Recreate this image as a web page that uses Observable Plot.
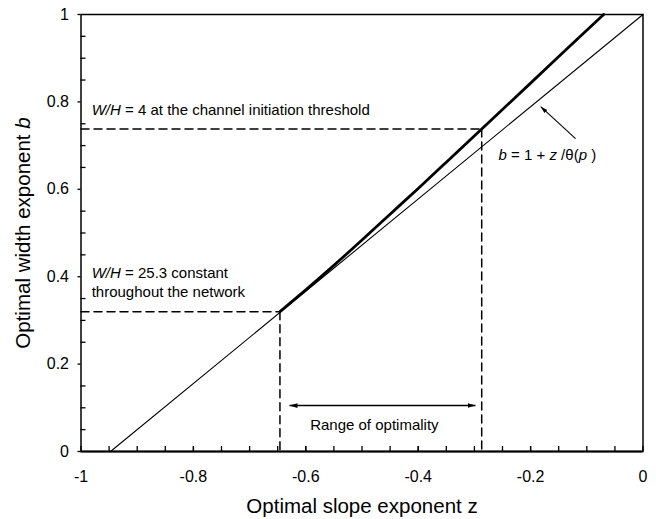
<!DOCTYPE html>
<html><head><meta charset="utf-8">
<script src="https://cdn.jsdelivr.net/npm/d3@7"></script>
<script src="https://cdn.jsdelivr.net/npm/@observablehq/plot@0.6"></script>
<style>body{margin:0;background:#fff}</style>
</head><body><div id="chart"></div>
<script>
// Tick values
const xMajor = [-1, -0.8, -0.6, -0.4, -0.2, 0];
const xMinor = [-0.95, -0.9, -0.85, -0.8, -0.75, -0.7, -0.65, -0.6, -0.55, -0.5, -0.45, -0.4, -0.35, -0.3, -0.25, -0.2, -0.15, -0.1, -0.05];
const yMajor = [0, 0.2, 0.4, 0.6, 0.8, 1];
const yMinor = [0.05, 0.1, 0.15, 0.25, 0.3, 0.35, 0.45, 0.5, 0.55, 0.65, 0.7, 0.75, 0.85, 0.9, 0.95];

// Thin line b = 1 + z/theta(p)
const thinZ = [-0.9475, 0];
const thinB = [0, 1];
// Thick optimal curve
const thickZ = [-0.646, -0.60, -0.55, -0.50, -0.45, -0.40, -0.35, -0.287, -0.20, -0.13, -0.07];
const thickB = [0.320, 0.370, 0.426, 0.484, 0.543, 0.602, 0.662, 0.738, 0.843, 0.928, 1.0];
// Threshold points
const lowPt = {z: -0.646, b: 0.320};
const highPt = {z: -0.287, b: 0.738};
// Range arrow
const rangeArrow = {z1: -0.629, z2: -0.298, b: 0.105};
// Label arrow
const labelArrow = {z1: -0.120, b1: 0.716, z2: -0.182, b2: 0.789};

const thin = thinZ.map((z, i) => ({z, b: thinB[i]}));
const thick = thickZ.map((z, i) => ({z, b: thickB[i]}));
const dashes = [
  [{z: -1, b: lowPt.b}, {z: lowPt.z, b: lowPt.b}],
  [{z: lowPt.z, b: lowPt.b}, {z: lowPt.z, b: 0}],
  [{z: -1, b: highPt.b}, {z: highPt.z, b: highPt.b}],
  [{z: highPt.z, b: highPt.b}, {z: highPt.z, b: 0}]
];

function tri(size) {
  return (color) => {
    const m = d3.create("svg:marker")
      .attr("viewBox", "-12 -6 14 12")
      .attr("markerWidth", size * 14 / 12)
      .attr("markerHeight", size)
      .attr("markerUnits", "userSpaceOnUse")
      .attr("refX", 0).attr("refY", 0)
      .attr("orient", "auto-start-reverse");
    m.append("path").attr("d", "M-12,-3.6L0,0L-12,3.6Z").attr("fill", color).attr("stroke", "none");
    return m.node();
  };
}

const font = "'Liberation Sans', Arial, Helvetica, sans-serif";
const W = 656, H = 519, ML = 80.5, MR = 13.5, MT = 14, MB = 68;
const frameW = W - ML - MR, frameH = H - MT - MB;

const plot = Plot.plot({
  width: W,
  height: H,
  marginLeft: ML,
  marginRight: MR,
  marginTop: MT,
  marginBottom: MB,
  style: {fontFamily: font, background: "#fff", color: "#000"},
  x: {domain: [-1, 0]},
  y: {domain: [0, 1]},
  marks: [
    // inward minor ticks
    Plot.tickX(xMinor.concat(xMajor), {x: d => d, insetTop: frameH - 5, stroke: "#000", strokeWidth: 1.3}),
    Plot.tickY(yMinor, {y: d => d, insetRight: frameW - 5, stroke: "#000", strokeWidth: 1.3}),
    Plot.axisY(yMajor, {tickSize: 3, tickPadding: 9, label: null, fontSize: 16, tickFormat: d => String(d), strokeWidth: 1.3}),
    Plot.axisX(xMajor, {tickSize: 0, tickPadding: 19, label: null, fontSize: 16, tickFormat: d => String(d)}),
    Plot.frame({strokeWidth: 1.5}),
    Plot.ruleY([0], {strokeWidth: 2}),
    // dashed guides
    ...dashes.map(d => Plot.line(d, {x: "z", y: "b", stroke: "#000", strokeWidth: 1.5, strokeDasharray: "8,5"})),
    Plot.line(thin, {x: "z", y: "b", stroke: "#000", strokeWidth: 1.1}),
    Plot.line(thick, {x: "z", y: "b", stroke: "#000", strokeWidth: 2.8, curve: "monotone-x"}),
    // range of optimality arrow
    Plot.link([rangeArrow], {x1: "z1", x2: "z2", y1: "b", y2: "b", stroke: "#000", strokeWidth: 1.5, markerStart: tri(8), markerEnd: tri(8)}),
    Plot.link([labelArrow], {x1: "z1", y1: "b1", x2: "z2", y2: "b2", stroke: "#000", strokeWidth: 1.1, markerEnd: tri(7)}),
    // annotations
    Plot.text(["*W/H* = 4 at the channel initiation threshold"], {x: -0.981, y: 0.780, textAnchor: "start", fontSize: 15}),
    Plot.text(["*W/H* = 25.3 constant"], {x: -0.981, y: 0.407, textAnchor: "start", fontSize: 15}),
    Plot.text(["throughout the network"], {x: -0.981, y: 0.364, textAnchor: "start", fontSize: 15}),
    Plot.text(["*b* = 1 + *z* /θ(*p* )"], {x: -0.257, y: 0.677, textAnchor: "start", fontSize: 15}),
    Plot.text(["Range of optimality"], {x: -0.478, y: 0.0595, fontSize: 15}),
    // axis titles
    Plot.text(["Optimal slope exponent z"], {frameAnchor: "bottom", textAnchor: "middle", lineAnchor: "middle", dy: 55, fontSize: 20.5}),
    Plot.text(["Optimal width exponent *b*"], {frameAnchor: "left", textAnchor: "middle", lineAnchor: "middle", rotate: -90, dx: -58, fontSize: 20.5})
  ]
});

// italicize segments marked with *...*
plot.querySelectorAll("text").forEach(t => {
  const s = t.textContent;
  if (!s.includes("*") || t.querySelector("tspan")) return;
  t.textContent = "";
  s.split("*").forEach((part, i) => {
    if (!part) return;
    const ts = document.createElementNS("http://www.w3.org/2000/svg", "tspan");
    ts.textContent = part;
    if (i % 2 === 1) ts.setAttribute("font-style", "italic");
    t.appendChild(ts);
  });
});

document.getElementById("chart").appendChild(plot);
</script>
</body></html>
